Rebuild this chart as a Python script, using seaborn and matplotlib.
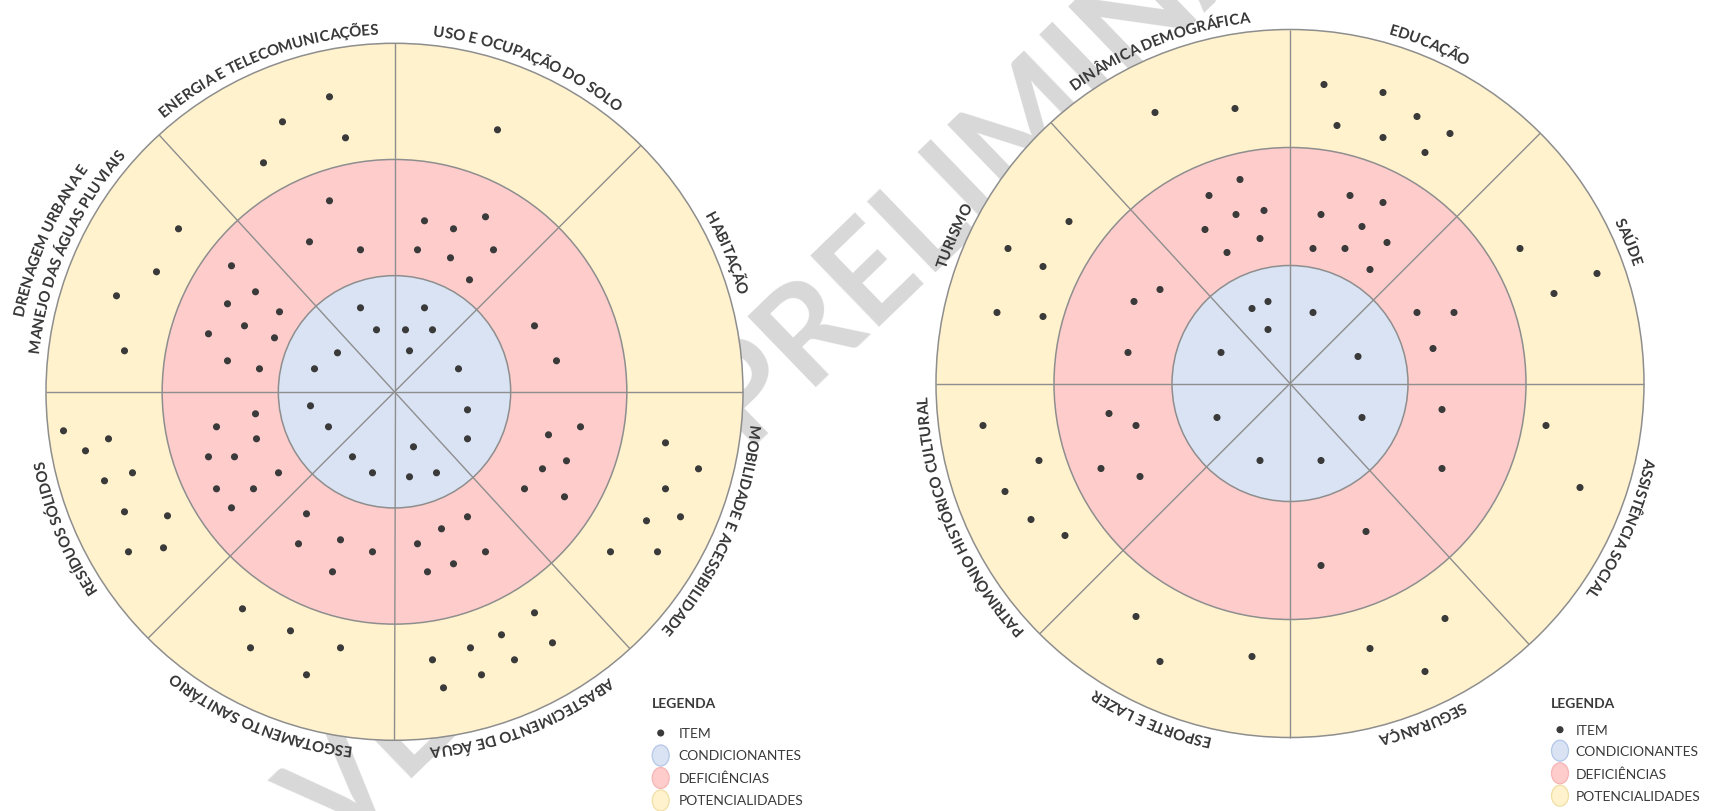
import numpy as np
import pandas as pd
import matplotlib
matplotlib.use("Agg")
import matplotlib.pyplot as plt
import matplotlib.patheffects as pe
import seaborn as sns
from matplotlib.patches import Circle, Ellipse
from matplotlib.font_manager import FontProperties, findfont, get_font

try:
    from matplotlib.ft2font import LoadFlags
    NOHINT = LoadFlags.NO_HINTING
except Exception:  # older matplotlib
    from matplotlib.ft2font import LOAD_NO_HINTING as NOHINT

# ---------------- data ----------------
SECTOR_EDGES = [0, 45, 90, 132.5, 180, 225, 270, 312.5, 360]

LEFT_THEMES = ["HABITAÇÃO", "USO E OCUPAÇÃO DO SOLO", "ENERGIA E TELECOMUNICAÇÕES",
               "DRENAGEM URBANA E\nMANEJO DAS ÁGUAS PLUVIAIS", "RESÍDUOS SÓLIDOS",
               "ESGOTAMENTO SANITÁRIO", "ABASTECIMENTO DE ÁGUA", "MOBILIDADE E ACESSIBILIDADE"]
RIGHT_THEMES = ["SAÚDE", "EDUCAÇÃO", "DINÂMICA DEMOGRÁFICA", "TURISMO",
                "PATRIMÔNIO HISTÓRICO CULTURAL", "ESPORTE E LAZER", "SEGURANÇA", "ASSISTÊNCIA SOCIAL"]

RING_NAMES = ["CONDICIONANTES", "DEFICIÊNCIAS", "POTENCIALIDADES"]
RING_COLORS = ["#DAE3F3", "#FFCCCC", "#FFF2CC"]
RING_EDGE_LEGEND = ["#B4C7E7", "#F5B5B5", "#F0DFA6"]

# item positions (offsets from the chart centre, reference pixels, y up)
LEFT_COND = [(-34, 84), (-18, 62), (-57, 39), (-80, 23), (30, 84), (11, 62), (38, 62), (15, 41),
             (64, 23), (-84, -14), (-66, -35), (-42, -65), (-22, -81), (19, -55), (15, -85),
             (42, -81), (73, -18), (73, -47)]
LEFT_DEF = [(-65, 191), (-85, 150), (-34, 142),
            (30, 171), (59, 163), (91, 175), (23, 142), (56, 134), (99, 142), (75, 112),
            (140, 66), (162, 31),
            (-163, 126), (-139, 100), (-167, 88), (-115, 80), (-150, 66), (-186, 58), (-120, 54),
            (-167, 31), (-135, 23),
            (-139, -22), (-178, -35), (-138, -47), (-186, -65), (-160, -65), (-116, -81),
            (-178, -97), (-141, -97), (-163, -116),
            (-88, -122), (-96, -152), (-54, -148), (-22, -160), (-62, -180),
            (73, -125), (47, -137), (23, -152), (91, -160), (59, -172), (33, -180),
            (186, -35), (154, -43), (172, -69), (148, -77), (130, -97), (170, -105)]
LEFT_POT = [(-65, 295), (-112, 270), (-49, 254), (-131, 229),
            (103, 262),
            (-216, 163), (-238, 120), (-278, 96), (-270, 41),
            (-331, -39), (-286, -47), (-309, -59), (-262, -81), (-290, -89), (-270, -120),
            (-227, -124), (-266, -160), (-231, -156),
            (-152, -217), (-104, -239), (-144, -256), (-54, -256), (-88, -283),
            (140, -221), (107, -243), (158, -251), (76, -256), (38, -268), (120, -268),
            (87, -283), (49, -296),
            (271, -51), (304, -77), (271, -97), (286, -125), (252, -129), (216, -160), (263, -160)]

RIGHT_COND = [(-38, 75), (-22, 82), (-22, 54), (23, 71), (-69, 31), (68, 27),
              (-73, -34), (72, -34), (-30, -77), (31, -77)]
RIGHT_DEF = [(-50, 204), (-81, 188), (-54, 169), (-26, 173), (-85, 154), (-30, 145), (-63, 131),
             (60, 188), (93, 181), (31, 169), (72, 157), (97, 141), (23, 135), (55, 135), (80, 114),
             (127, 71), (164, 71), (143, 35),
             (-130, 94), (-156, 82), (-162, 31),
             (-181, -30), (-154, -42), (-189, -85), (-150, -93),
             (152, -26), (152, -85),
             (76, -148), (31, -182)]
RIGHT_POT = [(-135, 271), (-55, 275),
             (34, 299), (93, 291), (127, 267), (47, 258), (93, 246), (160, 250), (135, 231),
             (230, 135), (307, 110), (264, 90),
             (-221, 162), (-282, 135), (-247, 117), (-293, 71), (-247, 67),
             (-307, -42), (-251, -77), (-285, -108), (-259, -136), (-225, -152),
             (-154, -233), (-130, -278), (-38, -273),
             (155, -235), (80, -265), (135, -288),
             (256, -42), (290, -104)]

LEGEND_TITLE = "LEGENDA"
LEGEND_ITEM = "ITEM"
WATERMARK = "VERSÃO PRELIMINAR"

# ---------------- layout ----------------
W, H = 1709, 812
DPI = 100
LEFT_C, LEFT_R = (394.5, 392.8), 348.5
RIGHT_C, RIGHT_R = (1290.0, 384.5), 354.0
LINE_COL = "#8E8E8E"
DOT_COL = "#3A3A3A"
TEXT_COL = "#3A3A3A"
FAMILY = ["Lato", "DejaVu Sans"]

sns.set_theme(style="white")
plt.rcParams["font.family"] = FAMILY

fig = plt.figure(figsize=(W / DPI, H / DPI), dpi=DPI)
ax = fig.add_axes([0, 0, 1, 1])
ax.set_xlim(0, W)
ax.set_ylim(H, 0)
ax.set_axis_off()

_KERNERS = {}


def get_kerner(path):
    """pair kerning (in em) read from the font's GPOS 'kern' feature / kern table."""
    if path in _KERNERS:
        return _KERNERS[path]

    def no_kern(a, b):
        return 0.0
    try:
        from fontTools.ttLib import TTFont
        tt = TTFont(path, fontNumber=0)
        cmap = tt.getBestCmap()
        upem = tt["head"].unitsPerEm
        groups = []
        if "GPOS" in tt:
            gpos = tt["GPOS"].table
            idxs = []
            if gpos.FeatureList is not None:
                for fr in gpos.FeatureList.FeatureRecord:
                    if fr.FeatureTag == "kern":
                        for li in fr.Feature.LookupListIndex:
                            if li not in idxs:
                                idxs.append(li)
            for li in sorted(idxs):
                lk = gpos.LookupList.Lookup[li]
                sts = []
                for st in lk.SubTable:
                    if lk.LookupType == 9:
                        st = st.ExtSubTable
                    if type(st).__name__ == "PairPos":
                        sts.append(st)
                groups.append(sts)
        ktab = None
        if "kern" in tt:
            try:
                ktab = tt["kern"].kernTables[0].kernTable
            except Exception:
                ktab = None

        def kern(a, b):
            ga, gb = cmap.get(ord(a)), cmap.get(ord(b))
            if ga is None or gb is None:
                return 0.0
            total = 0
            for sts in groups:
                for st in sts:
                    cov = st.Coverage.glyphs
                    if ga not in cov:
                        continue
                    if st.Format == 1:
                        ps = st.PairSet[cov.index(ga)]
                        hit = False
                        for pvr in ps.PairValueRecord:
                            if pvr.SecondGlyph == gb:
                                v = pvr.Value1
                                if v is not None:
                                    total += getattr(v, "XAdvance", 0) or 0
                                hit = True
                                break
                        if hit:
                            break
                    else:
                        c1 = st.ClassDef1.classDefs.get(ga, 0) if st.ClassDef1 else 0
                        c2 = st.ClassDef2.classDefs.get(gb, 0) if st.ClassDef2 else 0
                        v = st.Class1Record[c1].Class2Record[c2].Value1
                        if v is not None:
                            total += getattr(v, "XAdvance", 0) or 0
                        break
            if total == 0 and ktab:
                total = ktab.get((ga, gb), 0)
            return total / upem
        _KERNERS[path] = kern
    except Exception:
        _KERNERS[path] = no_kern
    return _KERNERS[path]


def glyph_anchors(text, fp):
    """for every non-space char: pen position + half ink width (pixels); total advance."""
    path = findfont(fp)
    font = get_font(path, hinting_factor=1)
    font.set_size(fp.get_size_in_points(), DPI)
    size_px = fp.get_size_in_points() * DPI / 72.0
    kern = get_kerner(path)
    pen = 0.0
    out = []
    prev = None
    for ch in text:
        if prev is not None:
            pen += kern(prev, ch) * size_px
        g = font.load_char(ord(ch), flags=NOHINT)
        adv = g.linearHoriAdvance / 65536.0
        if ch != " ":
            out.append((ch, pen + g.width / 128.0))
        pen += adv
        prev = ch
    return out, pen


def arc_text(text, cx, cy, r_base, theta_c, fp, color=TEXT_COL):
    anchors, total = glyph_anchors(text, fp)
    for ch, c in anchors:
        d = c - total / 2
        th = np.deg2rad(theta_c) - d / r_base
        x = cx + r_base * np.cos(th)
        y = cy - r_base * np.sin(th)
        ax.text(x, y, ch, fontproperties=fp, rotation=np.rad2deg(th) - 90,
                rotation_mode="anchor", ha="center", va="baseline", color=color, zorder=5,
                path_effects=[pe.Normal()])


def draw_chart(center, R, themes, cond, defi, pot):
    cx, cy = center
    for frac, col in zip([1.0, 2 / 3, 1 / 3], RING_COLORS[::-1]):
        ax.add_patch(Circle((cx, cy), R * frac, facecolor=col, edgecolor=LINE_COL,
                            lw=1.1, zorder=1))
    for a in SECTOR_EDGES[:-1]:
        t = np.deg2rad(a)
        ax.plot([cx, cx + R * np.cos(t)], [cy, cy - R * np.sin(t)],
                color=LINE_COL, lw=1.0, zorder=2, solid_capstyle="butt")
    rows = []
    for ring, items in zip(RING_NAMES, [cond, defi, pot]):
        for dx, dy in items:
            rows.append({"ring": ring, "x": cx + dx, "y": cy - dy})
    df = pd.DataFrame(rows)
    sns.scatterplot(data=df, x="x", y="y", ax=ax, color=DOT_COL, s=26,
                    edgecolor="none", legend=False, zorder=4)
    fp = FontProperties(family=FAMILY, size=10.8, weight="bold")
    for k, name in enumerate(themes):
        mid = (SECTOR_EDGES[k] + SECTOR_EDGES[k + 1]) / 2
        lines = name.split("\n")
        n = len(lines)
        for j, line in enumerate(lines):
            rb = R + 9 + (n - 1 - j) * 21
            arc_text(line, cx, cy, rb, mid, fp)


def draw_legend(x0, y_title, rows_y, dot_x, text_x):
    ax.text(x0, y_title, LEGEND_TITLE, fontsize=10, fontweight="bold", color=TEXT_COL,
            ha="left", va="center", zorder=5)
    ax.scatter([dot_x], [rows_y[0]], s=26, color=DOT_COL, edgecolor="none", zorder=5)
    ax.text(text_x, rows_y[0], LEGEND_ITEM, fontsize=10, color=TEXT_COL, ha="left",
            va="center", zorder=5)
    for y, name, col, ec in zip(rows_y[1:], RING_NAMES, RING_COLORS, RING_EDGE_LEGEND):
        ax.add_patch(Ellipse((dot_x, y), 17, 21, facecolor=col, edgecolor=ec, lw=0.9, zorder=5))
        ax.text(text_x, y, name, fontsize=10, color=TEXT_COL, ha="left", va="center", zorder=5)


# watermark (behind charts)
ax.text(810, 340, WATERMARK, fontsize=98, fontweight="bold", color="#D4D4D4",
        rotation=44, ha="center", va="center", zorder=0.5, alpha=0.9)

draw_chart(LEFT_C, LEFT_R, LEFT_THEMES, LEFT_COND, LEFT_DEF, LEFT_POT)
draw_chart(RIGHT_C, RIGHT_R, RIGHT_THEMES, RIGHT_COND, RIGHT_DEF, RIGHT_POT)

draw_legend(651.7, 704, [734, 756.5, 779, 801.5], 660.7, 678.3)
draw_legend(1550.7, 704, [730.7, 751.7, 774.3, 796.7], 1560, 1575.7)

fig.savefig("out.png", dpi=DPI, facecolor="white")
